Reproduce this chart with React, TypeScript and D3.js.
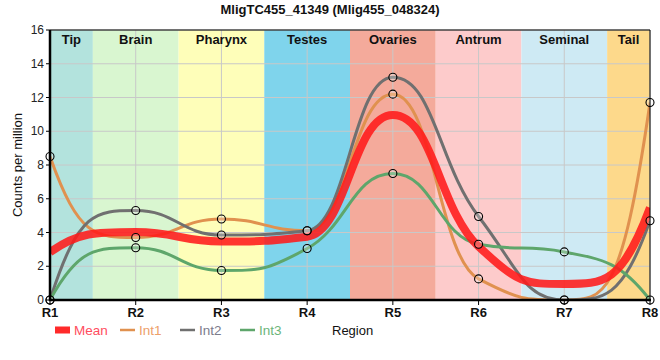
import React from "react";
import * as d3 from "d3";

const regions = ["R1", "R2", "R3", "R4", "R5", "R6", "R7", "R8"];
const bandNames = ["Tip", "Brain", "Pharynx", "Testes", "Ovaries", "Antrum", "Seminal", "Tail"];
const bandColors = ["#b3e3dd", "#d9f6d0", "#fefeb9", "#7fd4ec", "#f4aa9b", "#fdcbcb", "#ceeaf4", "#fdd98b"];
const meanValues = [2.83, 4.03, 3.47, 3.75, 10.97, 3.17, 0.95, 5.47];
const int1Values = [8.5, 3.7, 4.8, 4.1, 12.2, 1.25, 0, 11.7];
const int2Values = [0, 5.3, 3.85, 4.1, 13.2, 4.95, 0, 4.7];
const int3Values = [0, 3.1, 1.75, 3.05, 7.5, 3.3, 2.85, 0];
const yTicks = [0, 2, 4, 6, 8, 10, 12, 14, 16];

const W = 660, H = 360;
const L = 50, R = 650, T = 30, B = 300;

// Smooth path through scaled points: non-overshooting interior control points
// (arm = k * interval), steep end segments.
function splinePath(pts: [number, number][]): string {
  const n = pts.length;
  const k = 0.47;
  const smoothing = (1 - k) / k;
  const denom = smoothing + 1;
  const lc: [number, number][] = pts.map((p) => [p[0], p[1]]);
  const rc: [number, number][] = pts.map((p) => [p[0], p[1]]);
  for (let i = 1; i < n - 1; i++) {
    const [px, py] = pts[i];
    const [lx, ly] = pts[i - 1];
    const [nx, ny] = pts[i + 1];
    const lcx = (smoothing * px + lx) / denom;
    let lcy = (smoothing * py + ly) / denom;
    const rcx = (smoothing * px + nx) / denom;
    let rcy = (smoothing * py + ny) / denom;
    if (rcx !== lcx) {
      const corr = ((rcy - lcy) * (rcx - px)) / (rcx - lcx) + py - rcy;
      lcy += corr;
      rcy += corr;
    }
    if (lcy > ly && lcy > py) {
      lcy = Math.max(ly, py);
      rcy = 2 * py - lcy;
    } else if (lcy < ly && lcy < py) {
      lcy = Math.min(ly, py);
      rcy = 2 * py - lcy;
    }
    if (rcy > ny && rcy > py) {
      rcy = Math.max(ny, py);
      lcy = 2 * py - rcy;
    } else if (rcy < ny && rcy < py) {
      rcy = Math.min(ny, py);
      lcy = 2 * py - rcy;
    }
    lc[i] = [lcx, lcy];
    rc[i] = [rcx, rcy];
  }
  if (n > 2) {
    const f = 2 / (3 * k);
    const h0 = pts[1][0] - pts[0][0];
    rc[0] = [pts[0][0] + h0 / 3, pts[1][1] - f * (pts[1][1] - lc[1][1])];
    const hn = pts[n - 1][0] - pts[n - 2][0];
    lc[n - 1] = [pts[n - 1][0] - hn / 3, pts[n - 2][1] + f * (rc[n - 2][1] - pts[n - 2][1])];
  }
  const path = d3.path();
  path.moveTo(pts[0][0], pts[0][1]);
  for (let i = 1; i < n; i++) {
    path.bezierCurveTo(rc[i - 1][0], rc[i - 1][1], lc[i][0], lc[i][1], pts[i][0], pts[i][1]);
  }
  return path.toString();
}

export default function App() {
  const x = d3.scalePoint<string>().domain(regions).range([L, R]);
  const y = d3.scaleLinear().domain([0, 16]).range([B, T]);
  const step = x.step();
  const toPts = (vals: number[]) => vals.map((v, i) => [x(regions[i]) as number, y(v)] as [number, number]);

  const series = [
    { name: "Int1", values: int1Values, color: "#e0914f", width: 3 },
    { name: "Int2", values: int2Values, color: "#707070", width: 3 },
    { name: "Int3", values: int3Values, color: "#5ea66b", width: 3 },
  ];

  const legend = [
    { name: "Mean", color: "#ff2a2a", text: "#ff4d5e", x: 55, mean: true },
    { name: "Int1", color: "#e0914f", text: "#eda06a", x: 120, mean: false },
    { name: "Int2", color: "#707070", text: "#7c7c8c", x: 180, mean: false },
    { name: "Int3", color: "#5ea66b", text: "#6cb57a", x: 240, mean: false },
  ];

  return (
    <div style={{ position: "absolute", left: 0, top: 0 }}>
      <svg width={W} height={H} style={{ display: "block", fontFamily: "Arial, 'Liberation Sans', sans-serif" }}>
        <rect x={0} y={0} width={W} height={H} fill="#fff" />
        <defs>
          <clipPath id="plotclip">
            <rect x={L} y={T} width={R - L} height={B - T} />
          </clipPath>
        </defs>
        {bandNames.map((b, i) => {
          const cx = x(regions[i]) as number;
          const x0 = Math.max(L, cx - step / 2);
          const x1 = Math.min(R, cx + step / 2);
          return <rect key={b} x={x0} y={T} width={x1 - x0} height={B - T} fill={bandColors[i]} />;
        })}
        {yTicks.map((t) => (
          <line key={"h" + t} x1={L} x2={R} y1={y(t)} y2={y(t)} stroke="#c8c8c8" strokeWidth={1} />
        ))}
        {regions.map((r) => (
          <line key={"v" + r} x1={x(r)} x2={x(r)} y1={T} y2={B} stroke="#c8c8c8" strokeWidth={1} />
        ))}
        {bandNames.map((b, i) => {
          const cx = x(regions[i]) as number;
          const x0 = Math.max(L, cx - step / 2);
          const x1 = Math.min(R, cx + step / 2);
          return (
            <text key={"t" + b} x={(x0 + x1) / 2} y={44} textAnchor="middle" fontSize={13} fontWeight="bold" fill="#111">
              {b}
            </text>
          );
        })}
        <g clipPath="url(#plotclip)">
          {series.map((s) => (
            <path key={s.name} d={splinePath(toPts(s.values))} fill="none" stroke={s.color} strokeWidth={s.width} />
          ))}
          <path d={splinePath(toPts(meanValues))} fill="none" stroke="#ff1a1a" strokeOpacity={0.88} strokeWidth={8} />
        </g>
        {series.map((s) =>
          s.values.map((v, i) => (
            <circle
              key={s.name + i}
              cx={x(regions[i])}
              cy={y(v)}
              r={4}
              fill="#ffffff"
              fillOpacity={0.25}
              stroke="#000"
              strokeWidth={1.1}
            />
          ))
        )}
        <line x1={L} x2={R} y1={T} y2={T} stroke="#000" strokeWidth={1} />
        <line x1={R} x2={R} y1={T} y2={B} stroke="#000" strokeWidth={1} />
        <line x1={L} x2={L} y1={T} y2={B + 1} stroke="#000" strokeWidth={2.5} />
        <line x1={L - 1} x2={R + 1} y1={B} y2={B} stroke="#000" strokeWidth={2.5} />
        {yTicks.map((t) => (
          <g key={"yt" + t}>
            <line x1={L - 4} x2={L} y1={y(t)} y2={y(t)} stroke="#000" strokeWidth={1} />
            <text x={L - 6} y={y(t)} dy="0.35em" textAnchor="end" fontSize={12} fill="#222">
              {t}
            </text>
          </g>
        ))}
        {regions.map((r) => (
          <g key={"xt" + r}>
            <line x1={x(r)} x2={x(r)} y1={B} y2={B + 5} stroke="#000" strokeWidth={1} />
            <text x={x(r)} y={317} textAnchor="middle" fontSize={13} fontWeight="bold" fill="#111">
              {r}
            </text>
          </g>
        ))}
        <text x={330} y={14} textAnchor="middle" fontSize={13} fontWeight="bold" fill="#111">
          MligTC455_41349 (Mlig455_048324)
        </text>
        <text transform={`translate(22,${(T + B) / 2}) rotate(-90)`} textAnchor="middle" fontSize={13} fill="#111">
          Counts per million
        </text>
        {legend.map((l) => (
          <g key={"lg" + l.name}>
            {l.mean ? (
              <rect x={l.x} y={326.5} width={15} height={7} fill={l.color} />
            ) : (
              <line x1={l.x} x2={l.x + 15} y1={330} y2={330} stroke={l.color} strokeWidth={2.5} />
            )}
            <text x={l.x + 19} y={335} fontSize={13.5} fill={l.text}>
              {l.name}
            </text>
          </g>
        ))}
        <text x={332} y={335} fontSize={13} fill="#111">
          Region
        </text>
      </svg>
    </div>
  );
}
